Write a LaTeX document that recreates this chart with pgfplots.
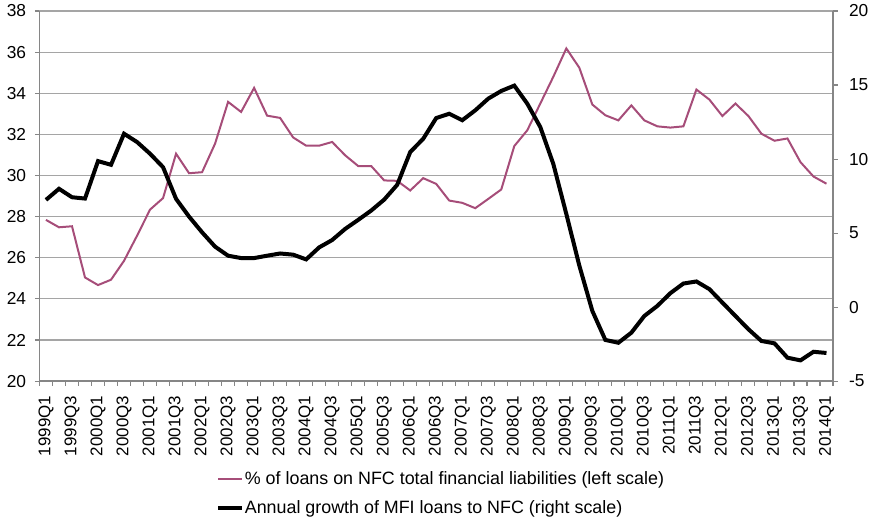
\documentclass[border=0pt]{standalone}
\usepackage{pgfplots}
\usepackage{pgfplotstable}
\pgfplotsset{compat=1.18}
\usepackage{fontspec}
\setmainfont{Liberation Sans}
\definecolor{pinkline}{RGB}{166,77,121}
\definecolor{axgray}{RGB}{134,134,134}
\definecolor{gridgray}{RGB}{165,165,165}

\pgfplotstableread{
i pct growth
0 27.84 7.24
1 27.48 7.99
2 27.53 7.42
3 25.04 7.33
4 24.67 9.86
5 24.93 9.61
6 25.85 11.71
7 27.07 11.15
8 28.34 10.36
9 28.90 9.45
10 31.06 7.31
11 30.11 6.11
12 30.16 5.05
13 31.55 4.08
14 33.58 3.47
15 33.09 3.31
16 34.26 3.31
17 32.91 3.47
18 32.80 3.62
19 31.85 3.54
20 31.45 3.22
21 31.45 4.03
22 31.63 4.53
23 30.98 5.28
24 30.46 5.89
25 30.46 6.52
26 29.76 7.26
27 29.74 8.26
28 29.27 10.47
29 29.87 11.37
30 29.59 12.77
31 28.78 13.06
32 28.67 12.62
33 28.41 13.29
34 28.86 14.08
35 29.32 14.60
36 31.43 14.96
37 32.20 13.74
38 33.50 12.16
39 34.80 9.67
40 36.18 6.29
41 35.24 2.80
42 33.45 -0.26
43 32.93 -2.22
44 32.68 -2.41
45 33.41 -1.73
46 32.68 -0.60
47 32.39 0.08
48 32.33 0.94
49 32.39 1.59
50 34.18 1.73
51 33.69 1.21
52 32.89 0.30
53 33.50 -0.60
54 32.89 -1.50
55 32.03 -2.29
56 31.69 -2.45
57 31.80 -3.42
58 30.65 -3.60
59 29.95 -3.02
60 29.60 -3.10
}\datatable

\begin{document}
\begin{tikzpicture}
\begin{axis}[
  name=ax,
  scale only axis, width=595pt, height=277.5pt,
  xmin=-0.5, xmax=60.5, ymin=20, ymax=38,
  ytick={20,22,...,38},
  axis x line*=bottom, axis y line*=left,
  axis line style={axgray, line width=1pt, -},
  ymajorgrids, grid style={gridgray, line width=0.9pt},
  xtick={0,2,...,60},
  xticklabels={1999Q1,1999Q3,2000Q1,2000Q3,2001Q1,2001Q3,2002Q1,2002Q3,2003Q1,2003Q3,2004Q1,2004Q3,2005Q1,2005Q3,2006Q1,2006Q3,2007Q1,2007Q3,2008Q1,2008Q3,2009Q1,2009Q3,2010Q1,2010Q3,2011Q1,2011Q3,2012Q1,2012Q3,2013Q1,2013Q3,2014Q1},
  minor xtick={-0.5,0.5,...,60.5},
  major x tick style={draw=none},
  minor x tick style={axgray, line width=0.8pt},
  y tick style={axgray, line width=0.8pt},
  tick align=outside,
  major tick length=3.5pt, minor tick length=3.5pt,
  xticklabel style={rotate=90, anchor=east, font=\fontsize{12.7}{14}\selectfont},
  xticklabel shift=4pt,
  yticklabel style={font=\fontsize{13}{15}\selectfont},
  yticklabel shift=3pt,
  /pgf/number format/assume math mode=true,
]
\addplot[pinkline, line width=1.5pt] table[x=i, y=pct] {\datatable};
\end{axis}
\begin{axis}[
  scale only axis, width=595pt, height=277.5pt,
  xmin=-0.5, xmax=60.5, ymin=-5, ymax=20,
  ytick={-5,0,...,20},
  axis x line=none, axis y line*=right,
  axis line style={axgray, line width=1pt, -},
  y tick style={axgray, line width=0.8pt},
  tick align=outside, major tick length=3.5pt,
  yticklabel style={font=\fontsize{13}{15}\selectfont},
  yticklabel shift=5pt,
  /pgf/number format/assume math mode=true,
  legend style={at={(0.2224,-0.304)}, anchor=west, draw=none, fill=none,
    font=\fontsize{13.4}{15}\selectfont, row sep=7pt, inner sep=0pt,
    nodes={inner xsep=0.5pt}},
  legend cell align=left,
  legend image code/.code={\draw[#1] (0pt,0pt) -- (18pt,0pt);},
]
\addlegendimage{pinkline, line width=1.5pt}
\addlegendentry{\% of loans on NFC total financial liabilities (left scale)}
\addplot[black, line width=3pt] table[x=i, y=growth] {\datatable};
\addlegendentry{Annual growth of MFI loans to NFC (right scale)}
\end{axis}
\pgfresetboundingbox
\path[use as bounding box] ([shift={(-29.6pt,-105pt)}]ax.south west) rectangle ([shift={(30.75pt,8.25pt)}]ax.north east);
\end{tikzpicture}
\end{document}
